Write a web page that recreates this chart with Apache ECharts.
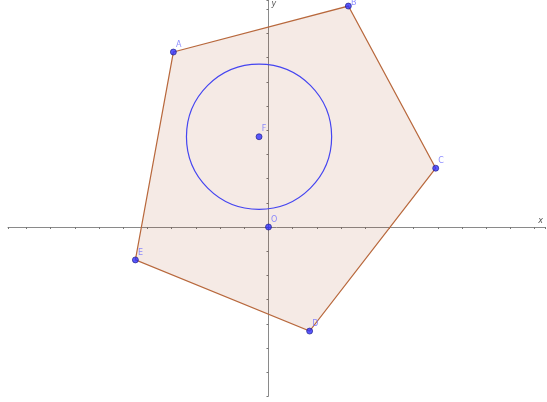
<!DOCTYPE html>
<html>
<head>
<meta charset="utf-8">
<script src="https://cdn.jsdelivr.net/npm/echarts@6/dist/echarts.min.js"></script>
<style>
  html, body { margin: 0; padding: 0; background: #fff; }
  #chart { width: 547px; height: 402px; }
</style>
</head>
<body>
<div id="chart"></div>
<script>
// 五边形顶点 A-E
const vertexNames = ["A", "B", "C", "D", "E"];
const vertexX = [-3.93, 3.30, 6.91, 1.70, -5.50];
const vertexY = [7.23, 9.13, 2.43, -4.30, -1.36];
// 圆心 F 和半径
const centerName = "F";
const centerX = -0.39;
const centerY = 3.73;
const circleRadius = 3;
// 原点
const originName = "O";
// 坐标范围
const xRange = [-10.764, 11.426];
const yRange = [-6.983, 9.38];

const myChart = echarts.init(document.getElementById("chart"));

const polygonData = vertexX.map((x, i) => [x, vertexY[i]]);
const pointData = vertexX.map((x, i) => ({ name: vertexNames[i], value: [x, vertexY[i]] }));
// B 在顶部，标签放右边
pointData[1].label = { position: [6, -4] };
pointData.push({ name: centerName, value: [centerX, centerY] });
pointData.push({ name: originName, value: [0, 0] });

const axisCommon = {
  type: "value",
  axisLine: { onZero: true, lineStyle: { color: "#8a8a8a", width: 1 } },
  axisTick: { show: true, length: 2, lineStyle: { color: "#777" } },
  axisLabel: { show: false },
  splitLine: { show: false },
  nameTextStyle: { color: "#555", fontSize: 8, fontStyle: "italic", fontFamily: "DejaVu Sans" }
};

const option = {
  animation: false,
  grid: { left: 8, right: 2, top: 0, bottom: 6, outerBoundsMode: "none" },
  xAxis: Object.assign({}, axisCommon, {
    min: xRange[0],
    max: xRange[1],
    splitNumber: 22,
    name: "x",
    nameLocation: "end",
    nameGap: -2,
    nameTextStyle: Object.assign({}, axisCommon.nameTextStyle, { align: "right", verticalAlign: "bottom", padding: [0, 0, 2, 0] })
  }),
  yAxis: Object.assign({}, axisCommon, {
    min: yRange[0],
    max: yRange[1],
    splitNumber: 16,
    name: "y",
    nameLocation: "end",
    nameGap: -4,
    nameTextStyle: Object.assign({}, axisCommon.nameTextStyle, { align: "left", verticalAlign: "middle", padding: [0, 0, 0, 3] })
  }),
  series: [
    {
      // 多边形
      type: "custom",
      z: 1,
      renderItem: function (params, api) {
        const pts = polygonData.map(p => api.coord(p));
        return {
          type: "polygon",
          shape: { points: pts },
          style: { fill: "rgba(153,51,0,0.1)", stroke: "#b8683c", lineWidth: 1.2 }
        };
      },
      data: [0]
    },
    {
      // 圆
      type: "custom",
      z: 2,
      renderItem: function (params, api) {
        const c = api.coord([centerX, centerY]);
        const r = api.size([circleRadius, 0])[0];
        return {
          type: "circle",
          shape: { cx: c[0], cy: c[1], r: r },
          style: { fill: "none", stroke: "#4545f0", lineWidth: 1.2 }
        };
      },
      data: [0]
    },
    {
      type: "scatter",
      z: 3,
      symbol: "circle",
      symbolSize: 6,
      itemStyle: { color: "#3030ff", borderColor: "#1a1a80", borderWidth: 0.8 },
      label: {
        show: true,
        formatter: "{b}",
        position: [6, -8],
        color: "#7070ff",
        fontSize: 8,
        fontFamily: "DejaVu Sans"
      },
      data: pointData
    }
  ]
};

myChart.clear();
myChart.setOption(option);
</script>
</body>
</html>
